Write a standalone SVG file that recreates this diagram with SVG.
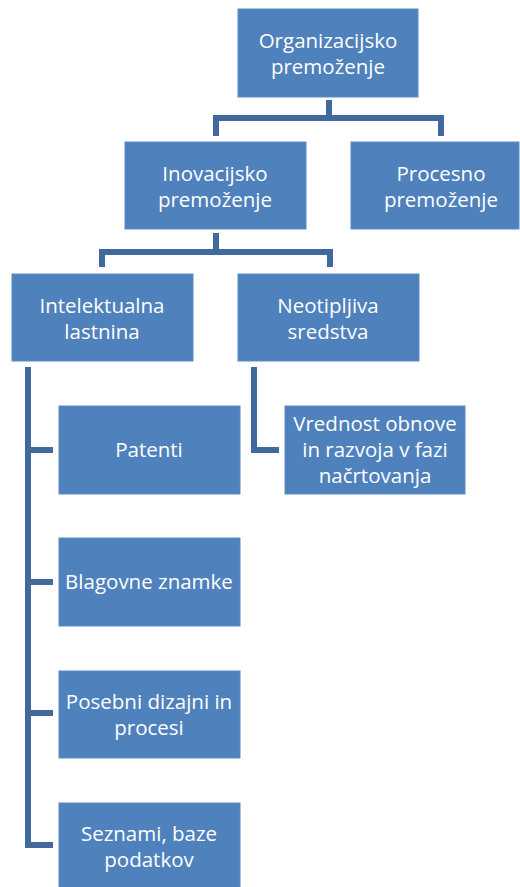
<svg xmlns="http://www.w3.org/2000/svg" width="520" height="887" viewBox="0 0 520 887">
<style>
.box{fill:#4F81BD;stroke:#5B8BC4;stroke-width:1}
.lbl{font-family:"Open Sans","Liberation Sans",sans-serif;font-size:20.5px;fill:#FFFFFF;text-anchor:middle}
.conn{fill:none;stroke:#41699C;stroke-width:6}
</style>
<rect width="520" height="887" fill="#FFFFFF"/>
<g id="connectors">
<path class="conn" d="M329,100 V118 M216,136 V118 H441 V136"/>
<path class="conn" d="M216,233 V252 M102,267 V252 H330 V267"/>
<path class="conn" d="M28,367 V848 M28,450 H53 M28,582 H53 M28,713 H53 M28,845 H53"/>
<path class="conn" d="M254,367 V450 H279"/>
</g>
<g id="n-organizacijsko">
<rect class="box" x="238" y="9" width="180" height="88"/>
<text class="lbl" x="328" y="48">Organizacijsko</text>
<text class="lbl" x="328" y="74">premoženje</text>
</g>
<g id="n-inovacijsko">
<rect class="box" x="125" y="142" width="181" height="87"/>
<text class="lbl" x="215" y="181">Inovacijsko</text>
<text class="lbl" x="215" y="207">premoženje</text>
</g>
<g id="n-procesno">
<rect class="box" x="351" y="142" width="168" height="87"/>
<text class="lbl" x="441" y="181">Procesno</text>
<text class="lbl" x="441" y="207">premoženje</text>
</g>
<g id="n-intelektualna">
<rect class="box" x="12" y="274" width="181" height="87"/>
<text class="lbl" x="102" y="313">Intelektualna</text>
<text class="lbl" x="102" y="339">lastnina</text>
</g>
<g id="n-neotipljiva">
<rect class="box" x="238" y="274" width="181" height="87"/>
<text class="lbl" x="328" y="313">Neotipljiva</text>
<text class="lbl" x="328" y="339">sredstva</text>
</g>
<g id="n-patenti">
<rect class="box" x="59" y="406" width="181" height="88"/>
<text class="lbl" x="149" y="457">Patenti</text>
</g>
<g id="n-vrednost">
<rect class="box" x="285" y="406" width="180" height="88"/>
<text class="lbl" x="375" y="431">Vrednost obnove</text>
<text class="lbl" x="375" y="457">in razvoja v fazi</text>
<text class="lbl" x="375" y="483">načrtovanja</text>
</g>
<g id="n-blagovne">
<rect class="box" x="59" y="538" width="181" height="88"/>
<text class="lbl" x="149" y="589">Blagovne znamke</text>
</g>
<g id="n-posebni">
<rect class="box" x="59" y="671" width="181" height="87"/>
<text class="lbl" x="149" y="709">Posebni dizajni in</text>
<text class="lbl" x="149" y="735">procesi</text>
</g>
<g id="n-seznami">
<rect class="box" x="59" y="803" width="181" height="88"/>
<text class="lbl" x="149" y="841">Seznami, baze</text>
<text class="lbl" x="149" y="867">podatkov</text>
</g>
</svg>
